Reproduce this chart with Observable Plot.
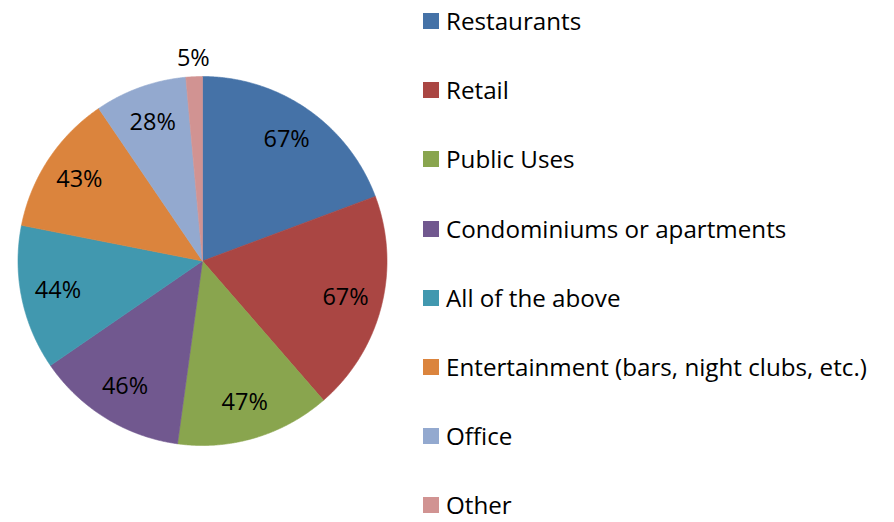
<!DOCTYPE html>
<html><head><meta charset="utf-8">
<script src="https://cdn.jsdelivr.net/npm/d3@7"></script>
<script src="https://cdn.jsdelivr.net/npm/@observablehq/plot@0.6"></script>
<style>
body{margin:0;background:#fff;overflow:hidden;}
#wrap{position:relative;width:894px;height:522px;font-family:"Open Sans",sans-serif;}
#chart svg{display:block;}
#legend{position:absolute;left:423px;top:0;}
.row{position:absolute;left:0;height:16px;display:flex;align-items:center;white-space:nowrap;font-size:24.2px;color:#000;}
.row span{display:inline-block;height:16px;line-height:16px;}
.sw{width:16px;height:16px;margin-right:7px;flex:none;}
</style></head><body>
<div id="wrap"><div id="chart"></div><div id="legend"></div></div>
<script>
const categories = ["Restaurants", "Retail", "Public Uses", "Condominiums or apartments", "All of the above", "Entertainment (bars, night clubs, etc.)", "Office", "Other"];
const values = [67, 67, 47, 46, 44, 43, 28, 5];
const valueLabels = ["67%", "67%", "47%", "46%", "44%", "43%", "28%", "5%"];
const colors = ["#4572A7", "#AA4643", "#89A54E", "#71588F", "#4198AF", "#DB843D", "#93A9CF", "#D19392"];

const arcs = d3.pie().sort(null)(values);
const total = d3.sum(values);

const slicePts = arcs.flatMap((a, i) => {
  const name = categories[i];
  const n = Math.max(2, Math.ceil((a.endAngle - a.startAngle) / 0.005));
  const pts = [{name, x: 0, y: 0}];
  for (let k = 0; k <= n; k++) {
    const t = a.startAngle + (a.endAngle - a.startAngle) * k / n;
    pts.push({name, x: Math.sin(t), y: Math.cos(t)});
  }
  pts.push({name, x: 0, y: 0});
  return pts;
});

const labelData = arcs.map((a, i) => {
  const mid = (a.startAngle + a.endAngle) / 2;
  const r = values[i] / total < 0.03 ? 1.1 : 0.8;
  return {name: categories[i], label: valueLabels[i], x: r * Math.sin(mid), y: r * Math.cos(mid)};
});

const chart = Plot.plot({
  width: 894,
  height: 522,
  margin: 0,
  x: {domain: [-1, 1], range: [17.5, 386.5], axis: null},
  y: {domain: [-1, 1], range: [445, 76], axis: null},
  color: {domain: categories, range: colors},
  style: {background: "#fff"},
  marks: [
    Plot.line(slicePts, {x: "x", y: "y", z: "name", fill: "name", stroke: "name", strokeWidth: 0.6}),
    Plot.text(labelData, {x: "x", y: "y", text: "label", fill: "#000", fontSize: 23.5, fontFamily: "Open Sans"})
  ]
});
document.getElementById("chart").append(chart);

const legend = document.getElementById("legend");
categories.forEach((c, i) => {
  const row = document.createElement("div");
  row.className = "row";
  row.style.top = (13 + i * 69.2) + "px";
  const sw = document.createElement("div");
  sw.className = "sw";
  sw.style.background = colors[i];
  const tx = document.createElement("span");
  tx.textContent = c;
  row.append(sw, tx);
  legend.append(row);
});
</script>
</body></html>
